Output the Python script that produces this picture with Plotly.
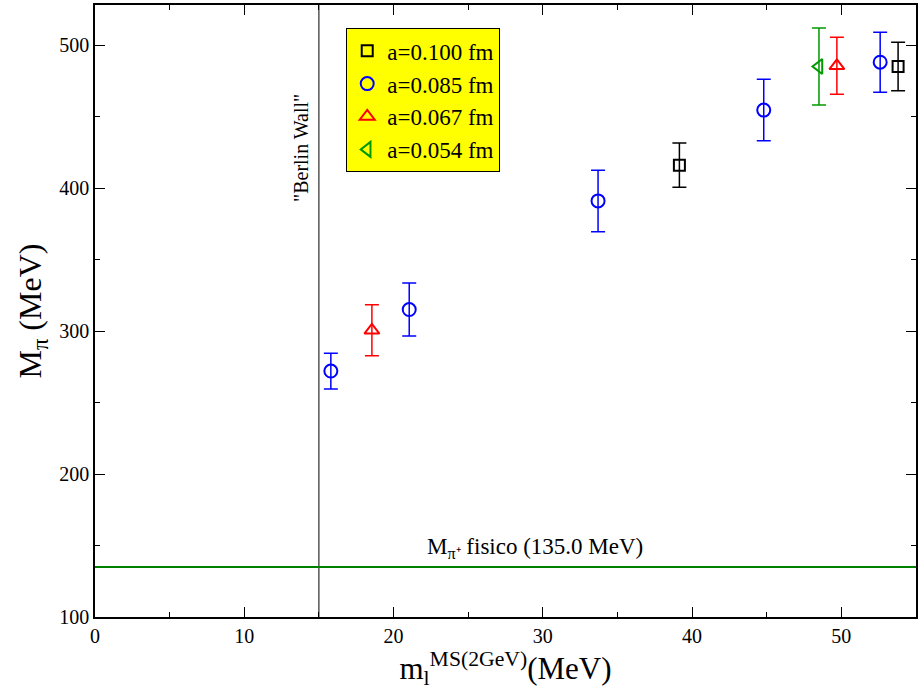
import plotly.graph_objects as go

# a=0.100 fm (black squares)
x_100 = [39.15, 53.8]
y_100 = [416.0, 485.0]
e_100 = [15.5, 17.0]
# a=0.085 fm (blue circles)
x_085 = [15.8, 21.05, 33.7, 44.8, 52.6]
y_085 = [272.0, 315.0, 391.0, 454.5, 488.0]
e_085 = [12.5, 18.5, 21.5, 21.5, 21.0]
# a=0.067 fm (red triangles)
x_067 = [18.55, 49.7]
y_067 = [300.5, 485.5]
e_067 = [17.8, 20.0]
# a=0.054 fm (green left triangles)
x_054 = [48.5]
y_054 = [485.0]
e_054 = [27.0]

names = ["a=0.100 fm", "a=0.085 fm", "a=0.067 fm", "a=0.054 fm"]
berlin_x = 15.0
phys_mass = 135.0

font_fam = "Liberation Serif"
fig = go.Figure()

series = [
    (x_100, y_100, e_100, names[0], "square-open", "black", 11),
    (x_085, y_085, e_085, names[1], "circle-open", "#0000ff", 13),
    (x_067, y_067, e_067, names[2], "triangle-up-open", "#ff0000", 13),
    (x_054, y_054, e_054, names[3], "triangle-left-open", "#009900", 13),
]
for xs, ys, es, nm, sym, col, sz in series:
    fig.add_trace(go.Scatter(
        x=xs, y=ys, mode="markers", name=nm,
        marker=dict(symbol=sym, color=col, size=sz, line=dict(width=2, color=col)),
        error_y=dict(type="data", array=es, visible=True, color=col, thickness=1.5, width=7),
    ))

fig.add_shape(type="line", xref="x", yref="paper", x0=berlin_x, x1=berlin_x, y0=0, y1=1,
              line=dict(color="black", width=1))
fig.add_shape(type="line", xref="paper", yref="y", x0=0, x1=1, y0=phys_mass, y1=phys_mass,
              line=dict(color="#008000", width=2))

fig.add_annotation(x=13.8, y=428, xref="x", yref="y", text='"Berlin Wall"', textangle=-90,
                   showarrow=False, font=dict(family=font_fam, size=20, color="black"))
fig.add_annotation(x=29.5, y=phys_mass, xref="x", yref="y", yanchor="bottom", yshift=3,
                   text="M<sub>π⁺</sub> fisico (135.0 MeV)",
                   showarrow=False, font=dict(family=font_fam, size=23, color="black"))

axis_common = dict(showline=True, linecolor="black", linewidth=1.5, mirror="allticks",
                   ticks="inside", ticklen=10, tickwidth=1, tickcolor="black",
                   showgrid=False, zeroline=False,
                   tickfont=dict(family=font_fam, size=20, color="black"))

fig.update_xaxes(range=[0, 55], dtick=10, tick0=0,
                 minor=dict(dtick=5, ticks="inside", ticklen=5, tickcolor="black"),
                 title=dict(text="m<sub>l</sub><sup>MS(2GeV)</sup>(MeV)",
                            font=dict(family=font_fam, size=31, color="black"), standoff=4),
                 **axis_common)
fig.update_yaxes(range=[100, 528], dtick=100, tick0=100,
                 minor=dict(dtick=50, ticks="inside", ticklen=5, tickcolor="black"),
                 title=dict(text="M<sub>π</sub> (MeV)",
                            font=dict(family=font_fam, size=32, color="black"), standoff=8),
                 **axis_common)

fig.update_layout(
    width=920, height=691,
    margin=dict(l=95, r=2, t=5, b=74),
    plot_bgcolor="white", paper_bgcolor="white",
    showlegend=True,
    legend=dict(x=0.306, y=0.962, xanchor="left", yanchor="top",
                bgcolor="#ffff00", bordercolor="black", borderwidth=1,
                font=dict(family=font_fam, size=23, color="black"),
                tracegroupgap=0, itemwidth=30),
)

fig.write_html("out.html", config={"displayModeBar": False},
               post_script="document.body.style.margin='0';document.body.style.overflow='hidden';")
